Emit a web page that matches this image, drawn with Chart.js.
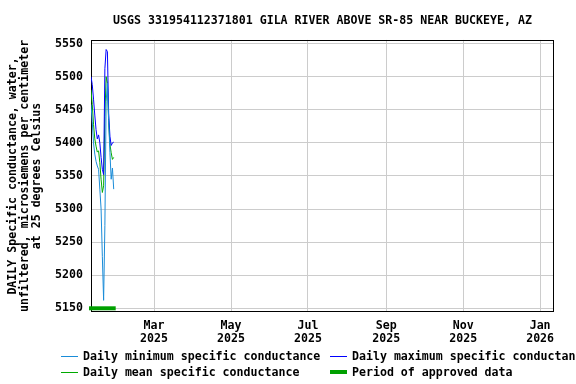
<!DOCTYPE html>
<html><head><meta charset="utf-8">
<script src="https://cdn.jsdelivr.net/npm/chart.js@4"></script>
<style>
html,body{margin:0;padding:0;background:#fff;overflow:hidden;}
#wrap{position:relative;width:576px;height:384px;overflow:hidden;background:#fff;}
#c{position:absolute;left:0;top:0;}
.lt{position:absolute;font:bold 11.6px "DejaVu Sans Mono",monospace;color:#000;white-space:nowrap;line-height:14px;height:14px;}
.sw{position:absolute;width:17px;}
</style></head><body>
<div id="wrap"><canvas id="c" width="576" height="384"></canvas><div id="legend"></div></div>
<script>
// ---- data ----
const dates = ["2025-01-10","2025-01-11","2025-01-12","2025-01-13","2025-01-14","2025-01-15","2025-01-16",
  "2025-01-17","2025-01-18","2025-01-19","2025-01-20","2025-01-21","2025-01-22","2025-01-23",
  "2025-01-24","2025-01-25","2025-01-26","2025-01-27","2025-01-28"];
const minValues  = [5458,5432,5400,5383,5372,5365,5360,5330,5300,5228,5162,5275,5462,5490,5435,5385,5345,5362,5330];
const maxValues  = [5500,5488,5466,5442,5420,5406,5412,5400,5378,5360,5352,5512,5541,5538,5445,5410,5396,5400,5401];
const meanValues = [5480,5458,5428,5406,5395,5386,5388,5370,5345,5325,5335,5440,5500,5490,5430,5398,5385,5375,5378];
const approvedPeriod = ["2025-01-10","2025-01-28"];
const approvedLevel = 5150;
const xTickDates = ["2025-03-01","2025-05-01","2025-07-01","2025-09-01","2025-11-01","2026-01-01"];
const xTickLabels = [["Mar","2025"],["May","2025"],["Jul","2025"],["Sep","2025"],["Nov","2025"],["Jan","2026"]];
const yTicks = [5150,5200,5250,5300,5350,5400,5450,5500,5550];
const xRange = ["2025-01-10","2026-01-12"];
const yRange = [5144.4, 5555.5];
const titleText = "USGS 331954112371801 GILA RIVER ABOVE SR-85 NEAR BUCKEYE, AZ";
const yTitle = ["DAILY Specific conductance, water,","unfiltered, microsiemens per centimeter","at 25 degrees Celsius"];
const seriesNames = ["Daily minimum specific conductance","Daily maximum specific conductance","Daily mean specific conductance","Period of approved data"];
const seriesColors = ["#1a8cd8","#0000ff","#00aa00","#00a000"];

// ---- helpers ----
const base = Date.UTC(2025,0,1);
const day = s => { const [y,m,d] = s.split("-").map(Number); return (Date.UTC(y,m-1,d)-base)/86400000; };
const pts = vals => vals.map((v,i)=>({x:day(dates[i]), y:v}));
const FONT = {family:'"DejaVu Sans Mono", monospace', size:11.6, weight:'bold'};

const framePlugin = {
  id:'frame',
  beforeDatasetsDraw(chart){
    const a = chart.chartArea, ctx = chart.ctx;
    ctx.save(); ctx.strokeStyle = '#000'; ctx.lineWidth = 1;
    ctx.strokeRect(Math.round(a.left)+0.5, Math.round(a.top)+0.5, Math.round(a.right-a.left)-1, Math.round(a.bottom-a.top)-1);
    ctx.restore();
  }
};

new Chart(document.getElementById('c'), {
  type:'line',
  data:{datasets:[
    {label:seriesNames[0], data:pts(minValues), borderColor:seriesColors[0], borderWidth:1, pointRadius:0, tension:0},
    {label:seriesNames[1], data:pts(maxValues), borderColor:seriesColors[1], borderWidth:1, pointRadius:0, tension:0},
    {label:seriesNames[2], data:pts(meanValues), borderColor:seriesColors[2], borderWidth:1, pointRadius:0, tension:0},
    {label:seriesNames[3], data:approvedPeriod.map(d=>({x:day(d), y:approvedLevel})), borderColor:seriesColors[3], borderWidth:4, borderCapStyle:'square', pointRadius:0, clip:false}
  ]},
  options:{
    responsive:false, animation:false, devicePixelRatio:1,
    layout:{padding:{left:0,right:22,top:0,bottom:0}},
    plugins:{
      legend:{display:false}, tooltip:{enabled:false},
      title:{display:true, text:titleText, font:FONT, color:'#000', padding:{top:14,bottom:12}, fullSize:false}
    },
    scales:{
      x:{type:'linear', min:day(xRange[0]), max:day(xRange[1]),
        afterBuildTicks(s){ s.ticks = xTickDates.map(d=>({value:day(d)})); },
        afterFit(s){ s.height = 72; },
        ticks:{autoSkip:false, maxRotation:0, padding:7, color:'#000', font:{...FONT, lineHeight:1.12},
          callback(v){ const i = xTickDates.findIndex(d=>day(d)===v); return i>=0 ? xTickLabels[i] : ''; }},
        grid:{color:'#cccccc', drawTicks:false, lineWidth:1},
        border:{display:false}
      },
      y:{type:'linear', min:yRange[0], max:yRange[1],
        afterBuildTicks(s){ s.ticks = yTicks.map(v=>({value:v})); },
        afterFit(s){ s.width = 91; },
        ticks:{padding:8, color:'#000', font:FONT, callback:v=>String(v)},
        grid:{color:'#cccccc', drawTicks:false, lineWidth:1},
        border:{display:false},
        title:{display:true, text:yTitle, color:'#000', font:{...FONT, lineHeight:1.034}, padding:{top:7,bottom:0}}
      }
    }
  },
  plugins:[framePlugin]
});

// ---- legend (HTML) ----
const leg = document.getElementById('legend');
const legItems = [
  {i:0, sx:61, tx:83, cy:356, h:1},
  {i:1, sx:330, tx:352, cy:356, h:1},
  {i:2, sx:61, tx:83, cy:372, h:1},
  {i:3, sx:330, tx:352, cy:372, h:4}
];
legItems.forEach(it=>{
  const sw = document.createElement('div');
  sw.className='sw';
  sw.style.left = it.sx+'px'; sw.style.height = it.h+'px';
  sw.style.top = (it.cy - it.h/2)+'px';
  sw.style.background = seriesColors[it.i];
  leg.appendChild(sw);
  const t = document.createElement('div');
  t.className='lt'; t.textContent = seriesNames[it.i];
  t.style.left = it.tx+'px'; t.style.top = (it.cy-7)+'px';
  leg.appendChild(t);
});
</script>
</body></html>
